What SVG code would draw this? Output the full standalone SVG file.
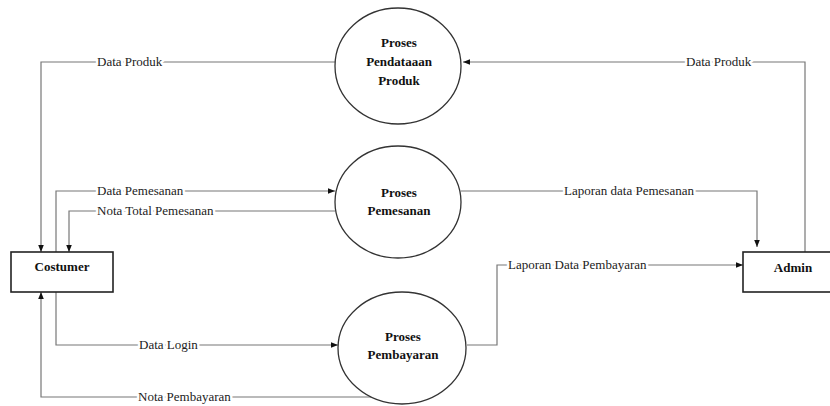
<svg xmlns="http://www.w3.org/2000/svg" width="830" height="406" viewBox="0 0 830 406">
<style>
.bg{fill:#fff}
.proc{fill:#fff;stroke:#333;stroke-width:1.3}
.ent{fill:#fff;stroke:#222;stroke-width:1.6}
.ntext{font-family:"Liberation Serif","Times New Roman",serif;font-size:13px;font-weight:bold;fill:#111;text-anchor:middle}
.flow{fill:none;stroke:#777;stroke-width:1.2}
.lbl{font-family:"Liberation Serif","Times New Roman",serif;font-size:13px;fill:#222;stroke:#fff;stroke-width:5;paint-order:stroke;stroke-linejoin:round}
</style>
<defs>
<marker id="arr" viewBox="0 0 10 10" refX="10" refY="5" markerWidth="7" markerHeight="7" markerUnits="userSpaceOnUse" orient="auto">
<path d="M0,1 L10,5 L0,9 z" fill="#111"/>
</marker>
</defs>
<rect class="bg" x="0" y="0" width="830" height="406"/>
<g id="connectors">
<polyline class="flow" points="335,62 41,62 41,252" marker-end="url(#arr)"/>
<polyline class="flow" points="805,252 805,62 463,62" marker-end="url(#arr)"/>
<polyline class="flow" points="56,252 56,191 335,191" marker-end="url(#arr)"/>
<polyline class="flow" points="335,211 69,211 69,252" marker-end="url(#arr)"/>
<polyline class="flow" points="461,191 757,191 757,247" marker-end="url(#arr)"/>
<polyline class="flow" points="467,345 497,345 497,265 743,265" marker-end="url(#arr)"/>
<polyline class="flow" points="56,292 56,345 338,345" marker-end="url(#arr)"/>
<polyline class="flow" points="371,397 41,397 41,292" marker-end="url(#arr)"/>
<text class="lbl" x="97" y="66">Data Produk</text>
<text class="lbl" x="686" y="66">Data Produk</text>
<text class="lbl" x="97" y="195">Data Pemesanan</text>
<text class="lbl" x="97" y="215">Nota Total Pemesanan</text>
<text class="lbl" x="564" y="195">Laporan data Pemesanan</text>
<text class="lbl" x="508" y="269">Laporan Data Pembayaran</text>
<text class="lbl" x="139" y="349">Data Login</text>
<text class="lbl" x="138" y="401">Nota Pembayaran</text>
</g>
<g id="proses-pendataan-produk">
<ellipse class="proc" cx="398" cy="66" rx="63" ry="58"/>
<text class="ntext" x="399" y="47">Proses</text>
<text class="ntext" x="399" y="66">Pendataaan</text>
<text class="ntext" x="399" y="85">Produk</text>
</g>
<g id="proses-pemesanan">
<ellipse class="proc" cx="398" cy="202" rx="63" ry="56"/>
<text class="ntext" x="399" y="197">Proses</text>
<text class="ntext" x="399" y="215">Pemesanan</text>
</g>
<g id="proses-pembayaran">
<ellipse class="proc" cx="402" cy="348" rx="64" ry="56"/>
<text class="ntext" x="403" y="341">Proses</text>
<text class="ntext" x="403" y="359">Pembayaran</text>
</g>
<g id="costumer">
<rect class="ent" x="11" y="252" width="102" height="40"/>
<text class="ntext" x="62" y="271">Costumer</text>
</g>
<g id="admin">
<rect class="ent" x="743" y="252" width="100" height="40"/>
<text class="ntext" x="793" y="272">Admin</text>
</g>
</svg>
